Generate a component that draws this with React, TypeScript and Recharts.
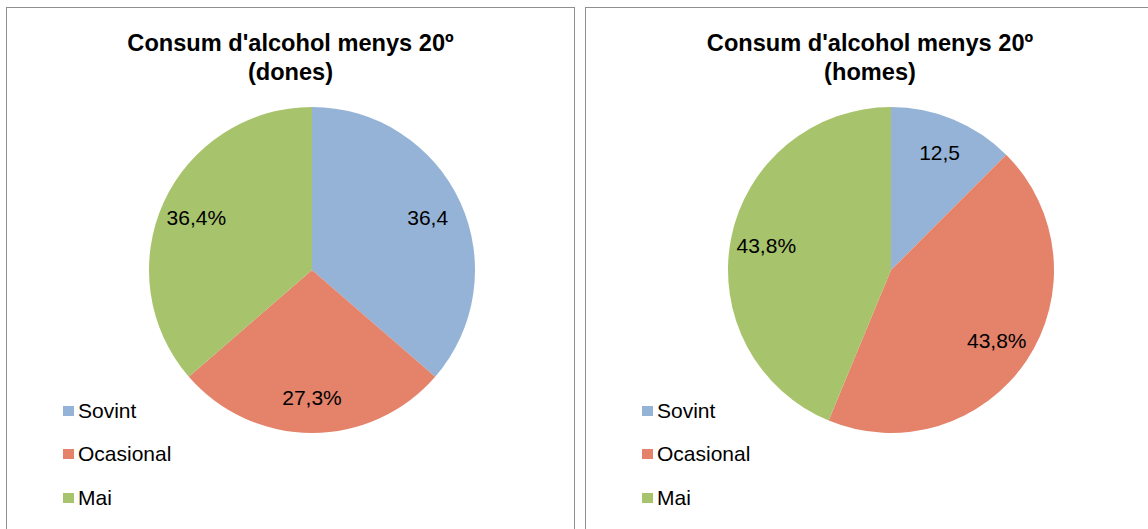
import React from 'react';
import { PieChart, Pie, Cell, Legend } from 'recharts';

const categories = ['Sovint', 'Ocasional', 'Mai'];
const donesValues = [36.4, 27.3, 36.4];
const homesValues = [12.5, 43.8, 43.8];
const donesLabels = ['36,4', '27,3%', '36,4%'];
const homesLabels = ['12,5', '43,8%', '43,8%'];

const COLORS = ['#95B3D7', '#E4826A', '#A7C36C'];
const FONT = '"Liberation Sans", Arial, sans-serif';

const RADIAN = Math.PI / 180;

const makeLabel = (texts: string[]) => (props: any) => {
  const { cx, cy, midAngle, outerRadius, index } = props;
  const r = outerRadius * 0.78;
  const x = cx + r * Math.cos(-midAngle * RADIAN);
  const y = cy + r * Math.sin(-midAngle * RADIAN);
  return (
    <text
      x={x}
      y={y}
      fill="#000"
      textAnchor="middle"
      dominantBaseline="central"
      fontSize={21}
      fontFamily={FONT}
    >
      {texts[index]}
    </text>
  );
};

const LegendList = (props: any) => {
  // keep the series order, not the alphabetical one
  const items = [...(props.payload || [])].sort(
    (a: any, b: any) => categories.indexOf(a.value) - categories.indexOf(b.value)
  );
  return (
    <div style={{ fontFamily: FONT, fontSize: 21, color: '#000' }}>
      {items.map((entry: any, i: number) => (
        <div
          key={`leg-${i}`}
          style={{ display: 'flex', alignItems: 'center', height: 43.5 }}
        >
          <span
            style={{
              display: 'inline-block',
              width: 11,
              height: 10,
              background: entry.color,
              marginRight: 4,
            }}
          />
          <span>{entry.value}</span>
        </div>
      ))}
    </div>
  );
};

type PanelProps = {
  left: number;
  width: number;
  subtitle: string;
  values: number[];
  labels: string[];
};

const Panel: React.FC<PanelProps> = ({ left, width, subtitle, values, labels }) => {
  const data = categories.map((name, i) => ({ name, value: values[i] }));
  return (
    <div style={{ position: 'absolute', left, top: 0, width, height: 529 }}>
      <div
        style={{
          position: 'absolute',
          left: 0,
          top: 7,
          width: width - 2,
          height: 540,
          border: '1.5px solid #8f8f8f',
        }}
      />
      <div
        style={{
          position: 'absolute',
          left: 0,
          top: 28.5,
          width,
          textAlign: 'center',
          fontFamily: FONT,
          fontWeight: 'bold',
          fontSize: 23.6,
          lineHeight: '29px',
          color: '#000',
        }}
      >
        Consum d'alcohol menys 20º
        <br />
        {subtitle}
      </div>
      <div style={{ position: 'absolute', left: 0, top: 0 }}>
        <PieChart width={width} height={529} margin={{ top: 0, right: 0, bottom: 0, left: 0 }}>
          <Pie
            data={data}
            dataKey="value"
            nameKey="name"
            cx={306}
            cy={270}
            outerRadius={163}
            startAngle={90}
            endAngle={-270}
            stroke="none"
            labelLine={false}
            label={makeLabel(labels)}
            isAnimationActive={false}
          >
            {data.map((entry, index) => (
              <Cell key={`cell-${index}`} fill={COLORS[index % COLORS.length]} />
            ))}
          </Pie>
          <Legend
            layout="vertical"
            verticalAlign="middle"
            align="center"
            content={<LegendList />}
            wrapperStyle={{ left: 57, top: 389, width: 200 }}
          />
        </PieChart>
      </div>
    </div>
  );
};

const App: React.FC = () => {
  return (
    <div
      style={{
        position: 'absolute',
        left: 0,
        top: 0,
        width: 1148,
        height: 529,
        overflow: 'hidden',
        background: '#fff',
      }}
    >
      <Panel left={6} width={569} subtitle="(dones)" values={donesValues} labels={donesLabels} />
      <Panel left={585} width={570} subtitle="(homes)" values={homesValues} labels={homesLabels} />
    </div>
  );
};

export default App;
